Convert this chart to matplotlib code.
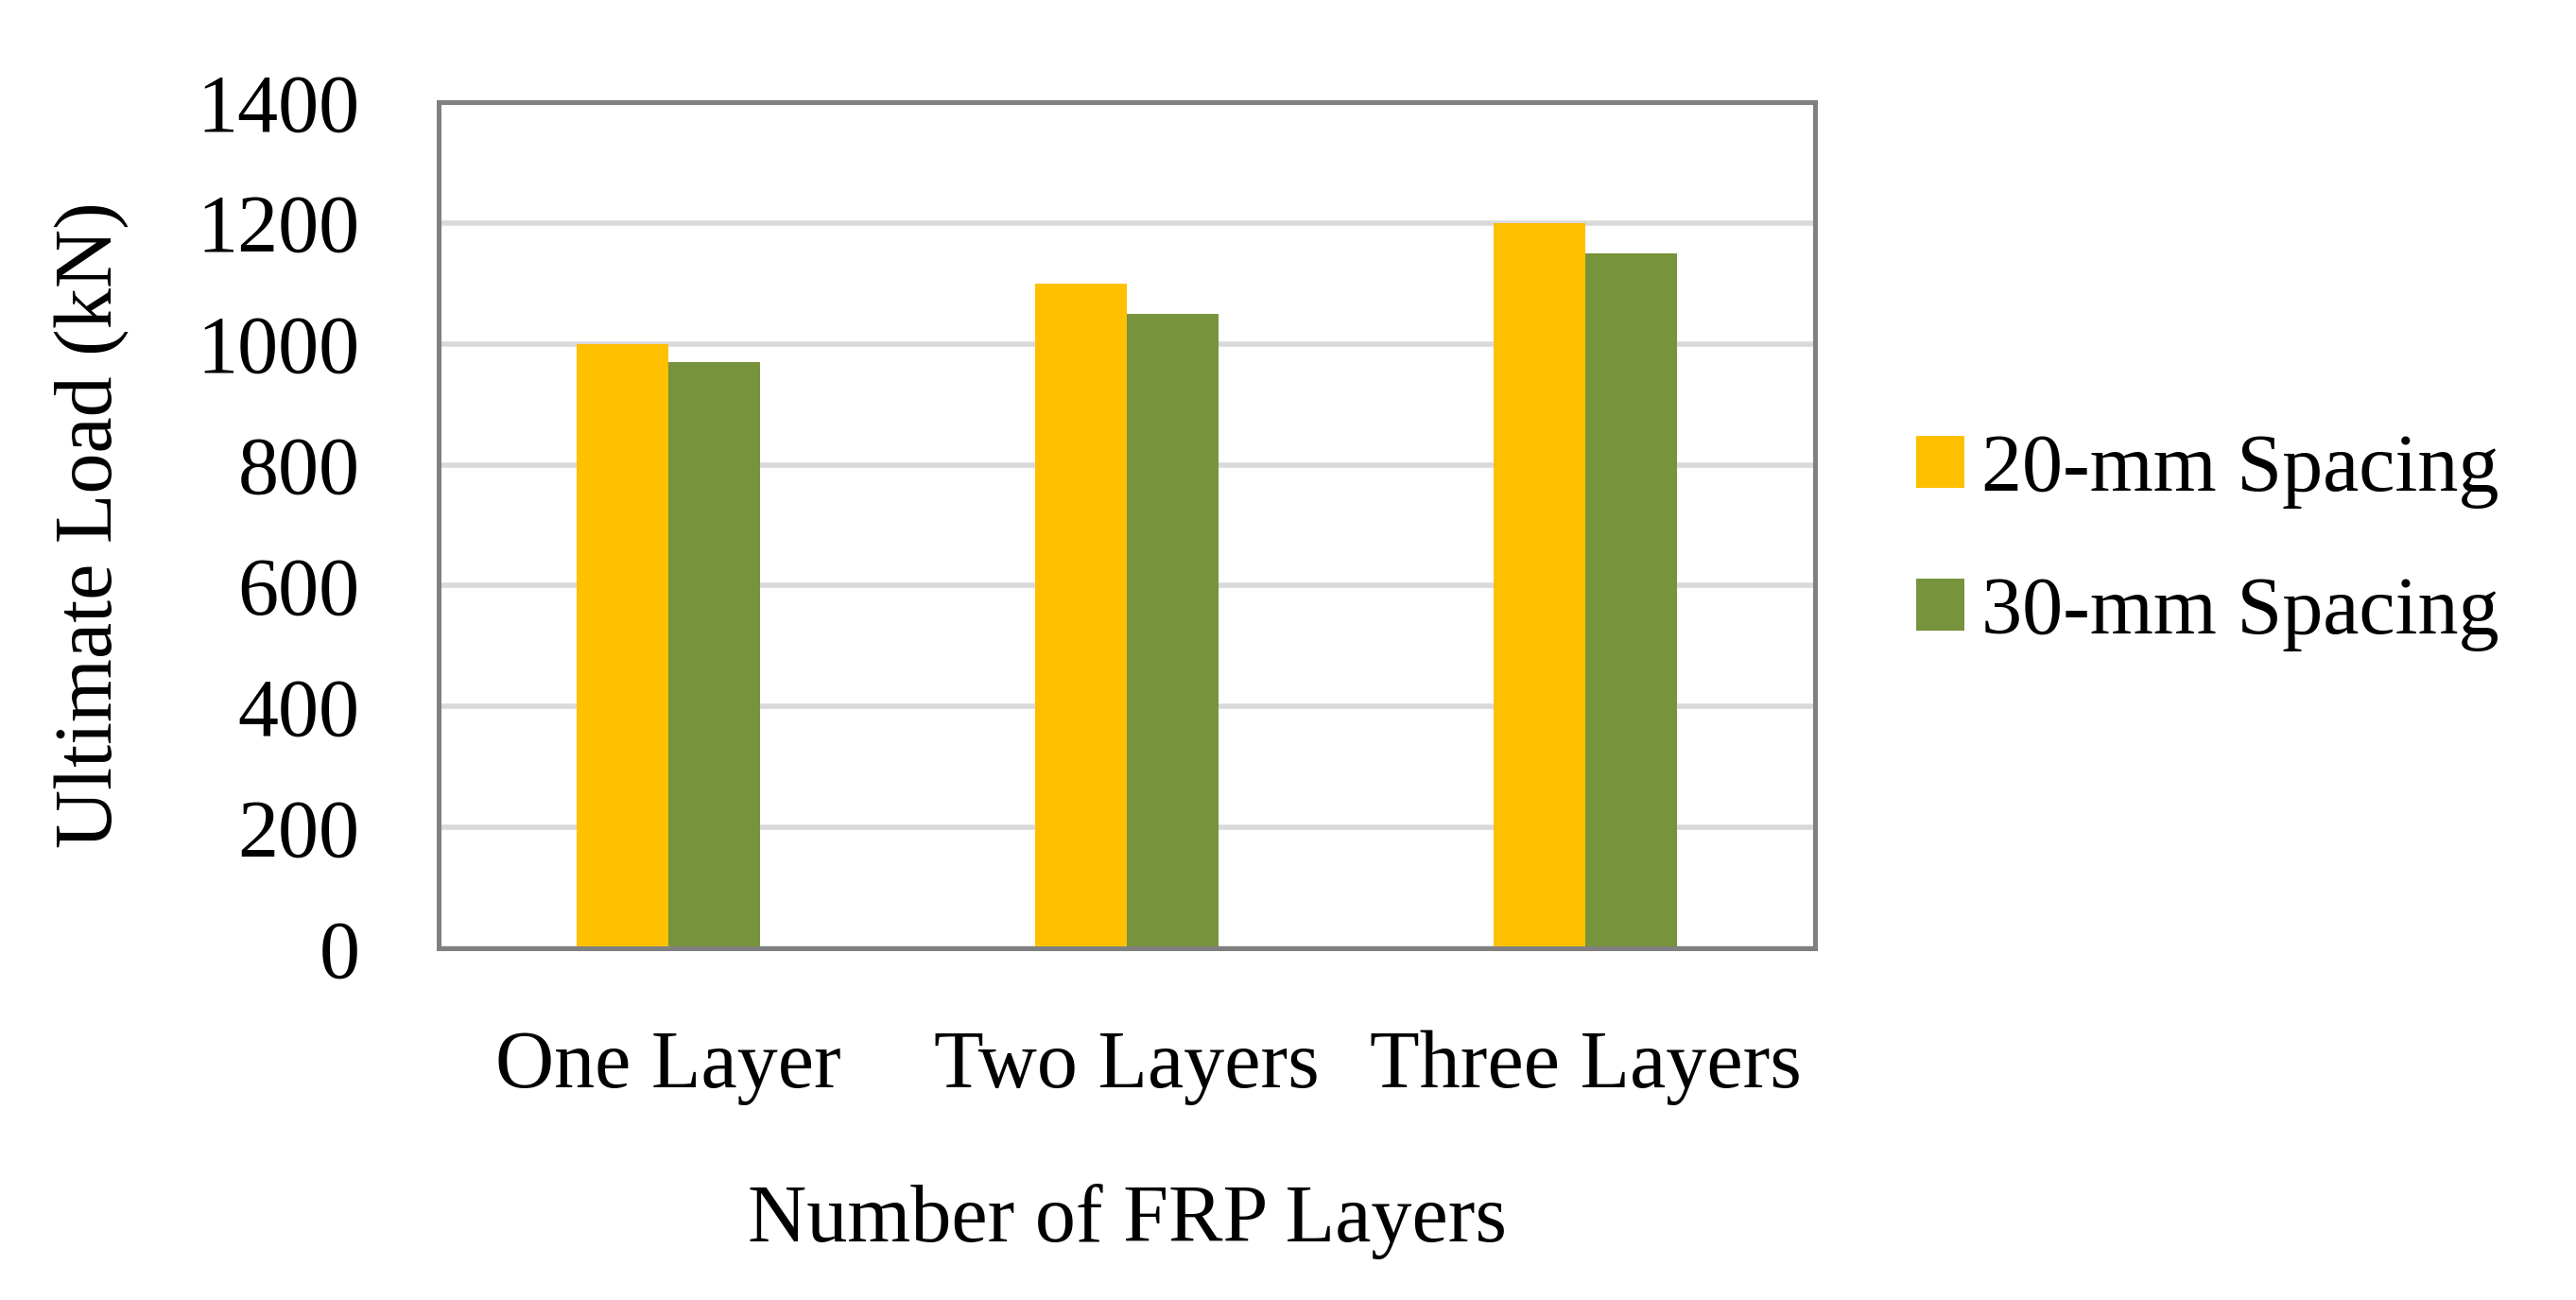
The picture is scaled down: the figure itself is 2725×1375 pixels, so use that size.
import matplotlib
matplotlib.use('Agg')
import matplotlib.pyplot as plt
import numpy as np

# ─── DATA ────────────────────────────────────────────────────────────────────
CATEGORIES = ['One Layer', 'Two Layers', 'Three Layers']
SERIES_NAMES = ['20-mm Spacing', '30-mm Spacing']
SPACING_20 = [1000, 1100, 1200]
SPACING_30 = [970, 1050, 1150]
Y_TICKS = [0, 200, 400, 600, 800, 1000, 1200, 1400]

COLORS = ['#FFC000', '#77933C']
FONT = 'Liberation Serif'
FS = 62

plt.rcParams['font.family'] = [FONT, 'DejaVu Serif']

fig = plt.figure(figsize=(27.25, 13.75), dpi=100)
ax = fig.add_axes([0.1703, 0.2705, 0.5343, 0.651])

x = np.arange(len(CATEGORIES))
w = 0.2
ax.bar(x - w / 2, SPACING_20, width=w, color=COLORS[0], label=SERIES_NAMES[0], zorder=3)
ax.bar(x + w / 2, SPACING_30, width=w, color=COLORS[1], label=SERIES_NAMES[1], zorder=3)

ax.set_xlim(-0.5, len(CATEGORIES) - 0.5)
ax.set_ylim(Y_TICKS[0], Y_TICKS[-1])
ax.set_yticks(Y_TICKS)
ax.set_xticks(x)
ax.set_xticklabels(CATEGORIES)
ax.yaxis.grid(True, color='#D9D9D9', linewidth=4.0, zorder=0)
ax.set_axisbelow(True)

for s in ax.spines.values():
    s.set_color('#808080')
    s.set_linewidth(3.6)
    s.set_zorder(4)

ax.tick_params(axis='both', length=0, labelsize=FS)
ax.tick_params(axis='y', pad=60)
ax.tick_params(axis='x', pad=62)

ax.set_ylabel('Ultimate Load (kN)', fontsize=FS)
ax.yaxis.set_label_coords(-0.224, 0.5)
ax.set_xlabel('Number of FRP Layers', fontsize=FS)
ax.xaxis.set_label_coords(0.5, -0.278)

ax.legend(loc='center left', bbox_to_anchor=(1.02, 0.48), frameon=False,
          fontsize=FS, handlelength=0.6, handleheight=0.6, handletextpad=0.2,
          labelspacing=0.83)

fig.savefig('out.png', dpi=100)
